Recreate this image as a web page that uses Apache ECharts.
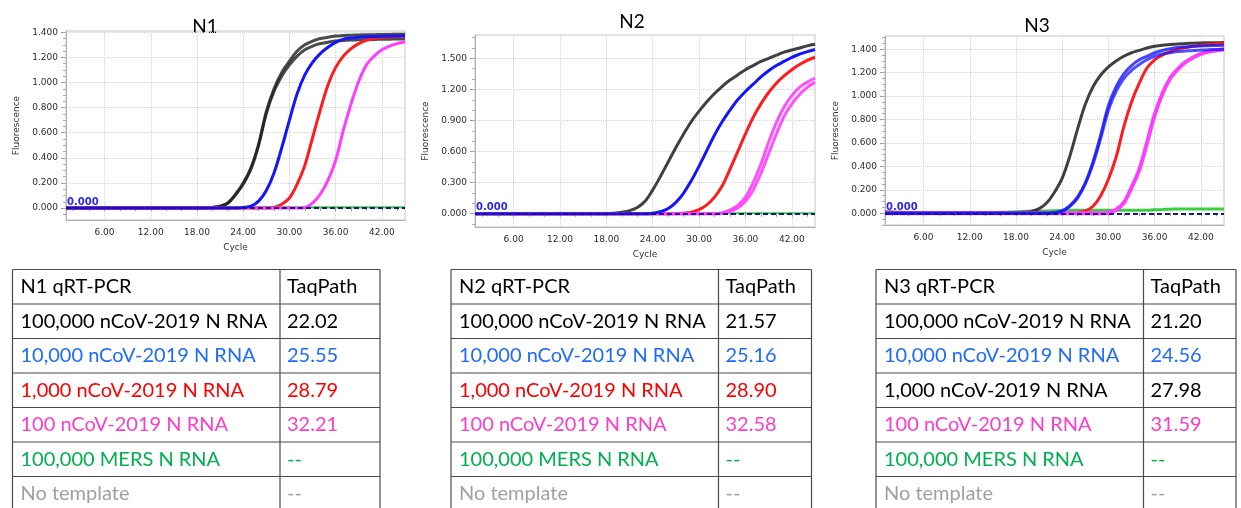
<!DOCTYPE html>
<html>
<head>
<meta charset="utf-8">
<style>
  html, body { margin: 0; padding: 0; background: #fff; }
  #chart-container { width: 1241px; height: 508px; }
</style>
</head>
<body>
<div id="chart-container"></div>
<script src="https://cdn.jsdelivr.net/npm/echarts@6.0.0/dist/echarts.min.js"></script>
<script>
// amplification curves (cycle 1..45)
var cycles = [1,2,3,4,5,6,7,8,9,10,11,12,13,14,15,16,17,18,19,20,21,22,23,24,25,26,27,28,29,30,31,32,33,34,35,36,37,38,39,40,41,42,43,44,45];

var xTicks = [6, 12, 18, 24, 30, 36, 42];
var n1YTicks = [0, 0.2, 0.4, 0.6, 0.8, 1.0, 1.2, 1.4];
var n2YTicks = [0, 0.3, 0.6, 0.9, 1.2, 1.5];
var n3YTicks = [0, 0.2, 0.4, 0.6, 0.8, 1.0, 1.2, 1.4];

// N1
var n1BlackA = [0,0,0,0,0,0,0,0,0,0,0,0,0,0,0,0,0,0,0,0.005,0.015,0.04,0.11,0.2,0.32,0.51,0.77,0.95,1.08,1.17,1.25,1.3,1.33,1.35,1.36,1.37,1.374,1.377,1.379,1.38,1.381,1.382,1.383,1.384,1.385];
var n1BlackB = [0,0,0,0,0,0,0,0,0,0,0,0,0,0,0,0,0,0,0,0.005,0.014,0.038,0.105,0.19,0.31,0.5,0.75,0.93,1.05,1.14,1.21,1.26,1.29,1.31,1.32,1.33,1.335,1.338,1.34,1.342,1.343,1.344,1.345,1.346,1.347];
var n1Blue = [0,0,0,0,0,0,0,0,0,0,0,0,0,0,0,0,0,0,0,0,0,0,0,0.005,0.015,0.055,0.14,0.28,0.48,0.7,0.91,1.06,1.16,1.23,1.28,1.32,1.345,1.355,1.36,1.364,1.366,1.368,1.37,1.371,1.372];
var n1Red = [0,0,0,0,0,0,0,0,0,0,0,0,0,0,0,0,0,0,0,0,0,0,0,0,0,0,0,0.005,0.03,0.08,0.19,0.34,0.56,0.78,0.98,1.12,1.21,1.27,1.31,1.335,1.35,1.358,1.363,1.367,1.37];
var n1Pink = [0,0,0,0,0,0,0,0,0,0,0,0,0,0,0,0,0,0,0,0,0,0,0,0,0,0,0,0,0,0,0,0.005,0.04,0.11,0.22,0.38,0.62,0.83,1.01,1.14,1.21,1.26,1.29,1.31,1.325];
var n1Green = [0.006,0.006,0.006,0.006,0.006,0.006,0.006,0.006,0.006,0.006,0.006,0.006,0.006,0.006,0.006,0.006,0.006,0.006,0.006,0.006,0.006,0.006,0.006,0.006,0.006,0.006,0.006,0.006,0.006,0.006,0.006,0.006,0.006,0.006,0.006,0.006,0.006,0.006,0.006,0.006,0.006,0.006,0.006,0.006,0.006];

// N2
var n2Black = [0,0,0,0,0,0,0,0,0,0,0,0,0,0,0,0,0,0,0.005,0.015,0.03,0.06,0.12,0.23,0.36,0.5,0.64,0.77,0.89,0.99,1.08,1.16,1.23,1.29,1.34,1.39,1.43,1.47,1.5,1.53,1.56,1.58,1.6,1.62,1.635];
var n2Blue = [0,0,0,0,0,0,0,0,0,0,0,0,0,0,0,0,0,0,0,0,0,0,0,0.005,0.02,0.05,0.11,0.2,0.32,0.46,0.61,0.76,0.89,1.0,1.1,1.18,1.25,1.32,1.38,1.43,1.47,1.51,1.54,1.565,1.585];
var n2Red = [0,0,0,0,0,0,0,0,0,0,0,0,0,0,0,0,0,0,0,0,0,0,0,0,0,0,0,0.005,0.015,0.04,0.085,0.16,0.27,0.43,0.6,0.77,0.93,1.06,1.17,1.26,1.33,1.39,1.44,1.48,1.51];
var n2PinkA = [0,0,0,0,0,0,0,0,0,0,0,0,0,0,0,0,0,0,0,0,0,0,0,0,0,0,0,0,0,0,0,0,0.01,0.035,0.08,0.16,0.3,0.48,0.69,0.88,1.03,1.14,1.22,1.27,1.31];
var n2PinkB = [0,0,0,0,0,0,0,0,0,0,0,0,0,0,0,0,0,0,0,0,0,0,0,0,0,0,0,0,0,0,0,0,0.005,0.022,0.055,0.12,0.23,0.39,0.58,0.77,0.94,1.06,1.15,1.22,1.27];
var n2Green = [0.005,0.005,0.005,0.005,0.005,0.005,0.005,0.005,0.005,0.005,0.005,0.005,0.005,0.005,0.005,0.005,0.005,0.005,0.005,0.005,0.005,0.005,0.005,0.005,0.005,0.005,0.005,0.005,0.005,0.005,0.005,0.005,0.005,0.005,0.005,0.005,0.005,0.005,0.005,0.005,0.005,0.005,0.005,0.005,0.005];

// N3
var n3Black = [0.012,0.01,0.008,0.005,0.005,0.005,0.005,0.005,0.005,0.005,0.005,0.005,0.005,0.005,0.005,0.005,0.005,0.005,0.008,0.015,0.04,0.09,0.18,0.3,0.49,0.72,0.93,1.08,1.18,1.25,1.3,1.34,1.37,1.39,1.41,1.425,1.435,1.44,1.445,1.45,1.452,1.454,1.455,1.456,1.457];
var n3BlueA = [0,0,0,0,0,0,0,0,0,0,0,0,0,0,0,0,0,0,0,0,0,0,0.005,0.02,0.065,0.14,0.26,0.44,0.67,0.92,1.08,1.19,1.26,1.31,1.34,1.37,1.39,1.405,1.415,1.42,1.425,1.428,1.43,1.432,1.434];
var n3BlueB = [0,0,0,0,0,0,0,0,0,0,0,0,0,0,0,0,0,0,0,0,0,0,0.004,0.018,0.06,0.13,0.25,0.42,0.64,0.88,1.04,1.15,1.22,1.27,1.31,1.34,1.36,1.37,1.38,1.385,1.39,1.393,1.396,1.398,1.4];
var n3Red = [0,0,0,0,0,0,0,0,0,0,0,0,0,0,0,0,0,0,0,0,0,0,0,0,0,0.005,0.02,0.06,0.15,0.29,0.48,0.74,0.95,1.11,1.24,1.31,1.35,1.38,1.4,1.415,1.425,1.435,1.44,1.445,1.45];
var n3Pink = [0,0,0,0,0,0,0,0,0,0,0,0,0,0,0,0,0,0,0,0,0,0,0,0,0,0,0,0,0,0.005,0.03,0.09,0.22,0.37,0.6,0.84,1.02,1.15,1.23,1.29,1.33,1.36,1.38,1.39,1.4];
var n3Green = [0.003,0.003,0.003,0.003,0.003,0.003,0.003,0.003,0.003,0.003,0.003,0.003,0.003,0.003,0.006,0.008,0.01,0.013,0.016,0.018,0.02,0.02,0.022,0.024,0.026,0.026,0.026,0.026,0.026,0.026,0.026,0.026,0.026,0.026,0.026,0.03,0.032,0.035,0.037,0.037,0.037,0.037,0.037,0.037,0.037];

// tables
var sampleNames = ['100,000 nCoV-2019 N RNA', '10,000 nCoV-2019 N RNA', '1,000 nCoV-2019 N RNA', '100 nCoV-2019 N RNA', '100,000 MERS N RNA', 'No template'];
var n1Ct = ['22.02', '25.55', '28.79', '32.21', '--', '--'];
var n2Ct = ['21.57', '25.16', '28.90', '32.58', '--', '--'];
var n3Ct = ['21.20', '24.56', '27.98', '31.59', '--', '--'];

var BLACK = '#1e1e1e', BLUE = '#1414ff', RED = '#ff1c1c', PINK = '#ff3cff', GREEN = '#3ccf3c';
var TXT = { black: '#000000', blue: '#1f6bff', red: '#ff0000', pink: '#ff3cc8', green: '#00b050', gray: '#a0a0a0' };

// drawing order: green first so the baseline reads blue, like the instrument plot
var panels = [
  { title: 'N1', titleX: 205, titleY: 27, left: 66, top: 31, width: 339, height: 189,
    yMin: -0.095, yMax: 1.41, yTicks: n1YTicks, yMinor: 0.05,
    lines: [[n1Green, GREEN, 2, 1], [n1BlackA, BLACK, 3, 0.8], [n1BlackB, BLACK, 3, 0.8], [n1Red, RED, 3, 1], [n1Pink, PINK, 3, 1], [n1Blue, BLUE, 3, 1]],
    table: { x0: 12.5, x1: 280, x2: 380, head: 'N1 qRT-PCR', ct: n1Ct,
      colors: [TXT.black, TXT.blue, TXT.red, TXT.pink, TXT.green, TXT.gray] } },
  { title: 'N2', titleX: 632, titleY: 22, left: 475, top: 35, width: 340, height: 192,
    yMin: -0.128, yMax: 1.725, yTicks: n2YTicks, yMinor: 0.1,
    lines: [[n2Green, GREEN, 2, 1], [n2Black, BLACK, 3, 0.85], [n2Red, RED, 3, 1], [n2PinkA, PINK, 3, 0.9], [n2PinkB, PINK, 3, 0.9], [n2Blue, BLUE, 3, 1]],
    table: { x0: 451, x1: 718.5, x2: 811.5, head: 'N2 qRT-PCR', ct: n2Ct,
      colors: [TXT.black, TXT.blue, TXT.red, TXT.pink, TXT.green, TXT.gray] } },
  { title: 'N3', titleX: 1037, titleY: 26, left: 885, top: 36, width: 339, height: 189,
    yMin: -0.1, yMax: 1.513, yTicks: n3YTicks, yMinor: 0.05,
    lines: [[n3Green, GREEN, 3, 1], [n3Black, BLACK, 3, 0.85], [n3Red, RED, 3, 1], [n3Pink, PINK, 4, 1], [n3BlueB, BLUE, 3, 0.75], [n3BlueA, BLUE, 3, 0.8]],
    table: { x0: 876, x1: 1143.5, x2: 1236, head: 'N3 qRT-PCR', ct: n3Ct,
      colors: [TXT.black, TXT.blue, TXT.black, TXT.pink, TXT.green, TXT.gray] } }
];

function steps(min, max, step) {
  var out = [];
  for (var v = Math.ceil(min / step) * step; v <= max + 1e-9; v += step) {
    out.push(Math.round(v * 1000) / 1000);
  }
  return out;
}

var AXIS_FONT = { fontFamily: 'DejaVu Sans', fontSize: 9, color: '#2b2b2b' };

var grids = [], xAxes = [], yAxes = [], series = [], graphics = [];

panels.forEach(function (p, i) {
  grids.push({ left: p.left, top: p.top, width: p.width, height: p.height,
    show: true, borderColor: '#c4c4c4', borderWidth: 1 });

  // main x axis: labels + grid lines
  xAxes.push({ type: 'value', gridIndex: i, min: 1, max: 45, position: 'bottom',
    name: 'Cycle', nameLocation: 'middle', nameGap: 23,
    nameTextStyle: { fontFamily: 'DejaVu Sans', fontSize: 9, color: '#333' },
    axisLine: { onZero: false, lineStyle: { color: '#b0b0b0' } },
    axisTick: { show: false, customValues: xTicks },
    axisLabel: Object.assign({ customValues: xTicks, margin: 8,
      formatter: function (v) { return v.toFixed(2); } }, AXIS_FONT),
    splitLine: { show: true, lineStyle: { color: '#d2d2d2', type: 'dotted' } } });
  // minor x ticks every 2 cycles
  xAxes.push({ type: 'value', gridIndex: i, min: 1, max: 45, position: 'bottom',
    axisLine: { show: false }, axisLabel: { show: false }, splitLine: { show: false },
    axisTick: { show: true, length: 3, customValues: steps(1, 45, 2), lineStyle: { color: '#999' } } });

  yAxes.push({ type: 'value', gridIndex: i, min: p.yMin, max: p.yMax, position: 'left',
    name: 'Fluorescence', nameLocation: 'middle', nameGap: 45, nameRotate: 90,
    nameTextStyle: { fontFamily: 'DejaVu Sans', fontSize: 9, color: '#333' },
    axisLine: { show: true, lineStyle: { color: '#b0b0b0' } },
    axisTick: { show: true, length: 5, customValues: p.yTicks, lineStyle: { color: '#999' } },
    axisLabel: Object.assign({ customValues: p.yTicks, margin: 8,
      formatter: function (v) { return v.toFixed(3); } }, AXIS_FONT),
    splitLine: { show: true, lineStyle: { color: '#d2d2d2', type: 'dotted' } } });
  yAxes.push({ type: 'value', gridIndex: i, min: p.yMin, max: p.yMax, position: 'left',
    axisLine: { show: false }, axisLabel: { show: false }, splitLine: { show: false },
    axisTick: { show: true, length: 3, customValues: steps(p.yMin, p.yMax, p.yMinor), lineStyle: { color: '#aaa' } } });

  p.lines.forEach(function (ln, k) {
    var s = {
      type: 'line', xAxisIndex: i * 2, yAxisIndex: i * 2,
      data: ln[0].map(function (v, j) { return [cycles[j], v]; }),
      showSymbol: false, smooth: 0.35,
      lineStyle: { color: ln[1], width: ln[2], opacity: ln[3] },
      itemStyle: { color: ln[1] }
    };
    if (k === p.lines.length - 1) {
      // threshold line
      s.markLine = {
        silent: true, symbol: ['none', 'none'],
        data: [{ yAxis: 0 }],
        lineStyle: { color: '#16168c', type: [5, 3], width: 2 },
        label: { show: true, position: 'insideStartTop', formatter: '0.000', distance: 1,
          color: '#2a2ae6', fontFamily: 'DejaVu Sans', fontSize: 10, fontWeight: 'bold' }
      };
    }
    series.push(s);
  });

  // panel title
  graphics.push({ type: 'text', x: p.titleX, y: p.titleY,
    style: { text: p.title, font: '19px Lato', fill: '#000', textAlign: 'center', textVerticalAlign: 'middle' } });

  // table under the panel
  var t = p.table, rowTop = 269.5, rowH = 34.5, nRows = 7;
  var lineStyle = { stroke: '#4a4a4a', lineWidth: 1.2 };
  for (var r = 0; r < nRows; r++) {
    var y = rowTop + r * rowH;
    graphics.push({ type: 'line', shape: { x1: t.x0, y1: y, x2: t.x2, y2: y }, style: lineStyle });
  }
  [t.x0, t.x1, t.x2].forEach(function (x) {
    graphics.push({ type: 'line', shape: { x1: x, y1: rowTop, x2: x, y2: 520 }, style: lineStyle });
  });
  var rows = [[t.head, 'TaqPath', '#000']];
  sampleNames.forEach(function (nm, k) { rows.push([nm, t.ct[k], t.colors[k]]); });
  rows.forEach(function (row, k) {
    var cy = rowTop + k * rowH + rowH / 2;
    graphics.push({ type: 'text', x: t.x0 + 8, y: cy,
      style: { text: row[0], font: '20px Lato', fill: row[2], textVerticalAlign: 'middle' } });
    graphics.push({ type: 'text', x: t.x1 + 7, y: cy,
      style: { text: row[1], font: '20px Lato', fill: row[2], textVerticalAlign: 'middle' } });
  });
});

var dom = document.getElementById('chart-container');
var myChart = echarts.init(dom, null, { renderer: 'canvas' });

var option = {
  backgroundColor: '#ffffff',
  animation: false,
  grid: grids,
  xAxis: xAxes,
  yAxis: yAxes,
  series: series,
  graphic: graphics
};

myChart.setOption(option);
window.addEventListener('resize', myChart.resize);
</script>
</body>
</html>
